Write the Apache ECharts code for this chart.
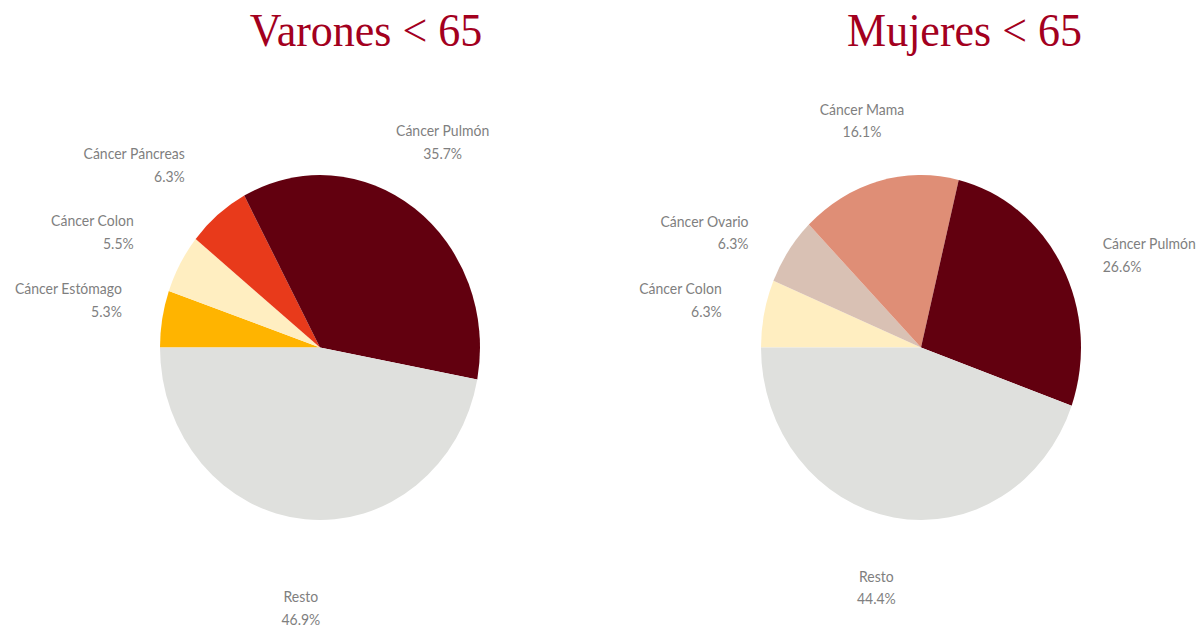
<!DOCTYPE html>
<html>
<head>
<meta charset="utf-8">
<script src="https://cdn.jsdelivr.net/npm/echarts@6/dist/echarts.min.js"></script>
<style>
  html, body { margin: 0; padding: 0; background: #fff; overflow: hidden; }
  #wrap { width: 1203px; height: 627px; overflow: hidden; }
  /* las tartas del original están algo estiradas en vertical */
  #grafico { width: 1203px; height: 582px; transform: scaleY(1.078); transform-origin: 0 0; }
</style>
</head>
<body>
<div id="wrap"><div id="grafico"></div></div>
<script>
const titulos = ['Varones < 65', 'Mujeres < 65'];

const catVarones = ['Cáncer Estómago', 'Cáncer Colon', 'Cáncer Páncreas', 'Cáncer Pulmón', 'Resto'];
const valVarones = [5.3, 5.5, 6.3, 35.7, 46.9];

const catMujeres = ['Cáncer Colon', 'Cáncer Ovario', 'Cáncer Mama', 'Cáncer Pulmón', 'Resto'];
const valMujeres = [6.3, 6.3, 16.1, 26.6, 44.4];

const coloresVarones = ['#FFB400', '#FFEEC1', '#E83A1B', '#62000F', '#DFE0DD'];
const coloresMujeres = ['#FFEEC1', '#D9C1B4', '#DF8E76', '#62000F', '#DFE0DD'];

// colocación de las etiquetas (distancia al centro, ajuste de ángulo, alineación)
const etiqVarones = [
    { dist: 203, dAng: -3.0, align: 'right' },
    { dist: 215, dAng: -0.9, align: 'right' },
    { dist: 217, dAng: -1.1, align: 'right' },
    { dist: 227, dAng: 3.5, align: 'center' },
    { dist: 242, dAng: 0.8, align: 'center' }
];
const etiqMujeres = [
    { dist: 204, dAng: -1.1, align: 'right' },
    { dist: 203, dAng: 2.3, align: 'right' },
    { dist: 219, dAng: 0.2, align: 'center' },
    { dist: 201, dAng: -3.0, align: 'left' },
    { dist: 227, dAng: -1.5, align: 'center' }
];

const centros = [[320, 322.4], [921, 322.4]];
const radio = 160;
const grisTexto = '#7F7F7F';

function ancla(vals, cfg, centro, idx) {
    const total = vals.reduce((a, b) => a + b, 0);
    let antes = 0;
    for (let i = 0; i < idx; i++) antes += vals[i];
    const ang = (180 - (antes + vals[idx] / 2) / total * 360 + cfg[idx].dAng) * Math.PI / 180;
    return {
        x: centro[0] + cfg[idx].dist * Math.cos(ang),
        y: centro[1] - cfg[idx].dist * Math.sin(ang),
        align: cfg[idx].align,
        verticalAlign: 'middle'
    };
}

function serieTarta(cats, vals, colores, cfg, centro) {
    return {
        type: 'pie',
        center: centro,
        radius: radio,
        startAngle: 180,
        clockwise: true,
        avoidLabelOverlap: false,
        silent: true,
        data: cats.map((c, i) => ({ name: c, value: vals[i], itemStyle: { color: colores[i] } })),
        itemStyle: { borderWidth: 0 },
        label: {
            show: true,
            position: 'outside',
            color: grisTexto,
            fontFamily: 'Lato',
            fontSize: 14,
            lineHeight: 21,
            formatter: (p) => p.name + '\n' + p.value.toFixed(1) + '%'
        },
        labelLine: { show: false },
        labelLayout: (params) => ancla(vals, cfg, centro, params.dataIndex)
    };
}

const myChart = echarts.init(document.getElementById('grafico'), null, { renderer: 'svg' });
const option = {
    animation: false,
    backgroundColor: '#fff',
    graphic: titulos.map((t, i) => ({
        type: 'text',
        x: [366, 964.5][i],
        y: 28,
        style: {
            text: t,
            fill: '#A3001E',
            font: '44px "Liberation Serif"',
            align: 'center',
            verticalAlign: 'middle'
        }
    })),
    series: [
        serieTarta(catVarones, valVarones, coloresVarones, etiqVarones, centros[0]),
        serieTarta(catMujeres, valMujeres, coloresMujeres, etiqMujeres, centros[1])
    ]
};
myChart.setOption(option);
</script>
</body>
</html>
